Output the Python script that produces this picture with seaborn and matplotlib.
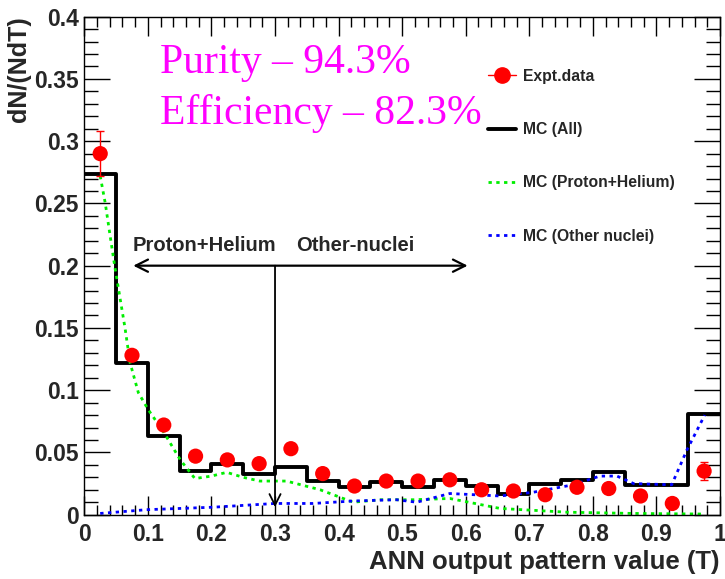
import numpy as np
import pandas as pd
import seaborn as sns
import matplotlib
matplotlib.use("Agg")
import matplotlib.pyplot as plt
from matplotlib.lines import Line2D
from matplotlib.ticker import MultipleLocator

# ---- data -------------------------------------------------------------
bin_edges = [0.00, 0.05, 0.10, 0.15, 0.20, 0.25, 0.30, 0.35, 0.40, 0.45, 0.50,
             0.55, 0.60, 0.65, 0.70, 0.75, 0.80, 0.85, 0.90, 0.95, 1.00]
bin_centers = [0.025, 0.075, 0.125, 0.175, 0.225, 0.275, 0.325, 0.375, 0.425, 0.475,
               0.525, 0.575, 0.625, 0.675, 0.725, 0.775, 0.825, 0.875, 0.925, 0.975]

expt_values = [0.290, 0.128, 0.072, 0.047, 0.044, 0.041, 0.053, 0.033, 0.023, 0.027,
               0.027, 0.028, 0.020, 0.019, 0.016, 0.022, 0.021, 0.015, 0.009, 0.035]
expt_errors = [0.018, 0.004, 0.003, 0.002, 0.002, 0.002, 0.002, 0.002, 0.002, 0.002,
               0.002, 0.002, 0.002, 0.002, 0.002, 0.002, 0.002, 0.002, 0.002, 0.007]

mc_all = [0.274, 0.122, 0.063, 0.035, 0.041, 0.033, 0.038, 0.027, 0.022, 0.026,
          0.022, 0.028, 0.023, 0.017, 0.025, 0.028, 0.034, 0.024, 0.024, 0.081]

ph_x = [0.025, 0.033, 0.040, 0.048, 0.064, 0.072, 0.085, 0.101, 0.124, 0.151, 0.174,
        0.200, 0.224, 0.250, 0.276, 0.318, 0.371, 0.423, 0.465, 0.518, 0.575, 0.654,
        0.759, 0.863, 0.976]
ph_y = [0.272, 0.250, 0.226, 0.199, 0.150, 0.122, 0.098, 0.084, 0.067, 0.044, 0.029,
        0.031, 0.034, 0.030, 0.027, 0.027, 0.020, 0.010, 0.012, 0.012, 0.013, 0.005,
        0.002, 0.001, 0.0005]

other_x = [0.025, 0.098, 0.203, 0.300, 0.360, 0.423, 0.491, 0.523, 0.575, 0.654,
           0.706, 0.769, 0.811, 0.838, 0.864, 0.924, 0.948, 0.976]
other_y = [0.001, 0.004, 0.006, 0.009, 0.009, 0.011, 0.012, 0.010, 0.017, 0.015,
           0.018, 0.024, 0.031, 0.031, 0.025, 0.024, 0.052, 0.080]

# ---- style ------------------------------------------------------------
sns.set_theme(style="ticks")
plt.rcParams["font.family"] = ["Liberation Sans", "DejaVu Sans"]
plt.rcParams["font.weight"] = "bold"

fig = plt.figure(figsize=(7.25, 5.79), dpi=100)
ax = fig.add_axes([0.1163, 0.1111, 0.8768, 0.8601])

# MC (All) histogram drawn as a step line
hist_df = pd.DataFrame({"T": bin_edges, "v": mc_all + [mc_all[-1]]})
sns.lineplot(data=hist_df, x="T", y="v", drawstyle="steps-post", color="black",
             linewidth=2.8, ax=ax, legend=False)

# MC components
sns.lineplot(x=ph_x, y=ph_y, color="#00ee00", linestyle=(0, (1.2, 1.6)),
             linewidth=2.0, ax=ax, legend=False, sort=False)
sns.lineplot(x=other_x, y=other_y, color="#0000ff", linestyle=(0, (1.2, 1.6)),
             linewidth=2.0, ax=ax, legend=False, sort=False)

# experimental data with error bars
ax.errorbar(bin_centers, expt_values, yerr=expt_errors, fmt="none", ecolor="red",
            elinewidth=1.0, capsize=3, capthick=1.0, zorder=4)
sns.scatterplot(x=bin_centers, y=expt_values, color="red", s=120, edgecolor="none",
                ax=ax, zorder=5, legend=False)

# axes, ticks
ax.set_xlim(0, 1)
ax.set_ylim(0, 0.4)
ax.xaxis.set_major_locator(MultipleLocator(0.1))
ax.xaxis.set_minor_locator(MultipleLocator(0.02))
ax.yaxis.set_major_locator(MultipleLocator(0.05))
ax.yaxis.set_minor_locator(MultipleLocator(0.01))
ax.set_xticks(np.round(np.arange(0, 1.01, 0.1), 2))
ax.set_xticklabels(["0", "0.1", "0.2", "0.3", "0.4", "0.5", "0.6", "0.7", "0.8", "0.9", "1"])
ax.set_yticks(np.round(np.arange(0, 0.401, 0.05), 2))
ax.set_yticklabels(["0", "0.05", "0.1", "0.15", "0.2", "0.25", "0.3", "0.35", "0.4"])
ax.tick_params(axis="both", which="both", direction="in", top=True, right=True,
               color="black", width=1.0, labelsize=16.5)
ax.tick_params(axis="x", which="major", length=14, pad=6)
ax.tick_params(axis="x", which="minor", length=7)
ax.tick_params(axis="y", which="major", length=19, pad=4)
ax.tick_params(axis="y", which="minor", length=10)
for lab in ax.get_xticklabels() + ax.get_yticklabels():
    lab.set_fontweight("bold")
for sp in ax.spines.values():
    sp.set_color("black")
    sp.set_linewidth(1.0)

ax.set_xlabel("ANN output pattern value (T)", fontsize=18.5, fontweight="bold",
              loc="right", labelpad=3)
ax.set_ylabel("dN/(NdT)", fontsize=18, fontweight="bold", loc="top", labelpad=2)

# purity / efficiency text
ax.text(0.119, 0.3548, "Purity \u2013 94.3%", fontsize=30, color="#ff00ff",
        family=["Liberation Serif", "DejaVu Serif"], fontweight="normal")
ax.text(0.119, 0.3137, "Efficiency \u2013 82.3%", fontsize=30, color="#ff00ff",
        family=["Liberation Serif", "DejaVu Serif"], fontweight="normal")

# classification boundary annotations
ax.annotate("", xy=(0.077, 0.2), xytext=(0.603, 0.2),
            arrowprops=dict(arrowstyle="<->", color="black", lw=1.6,
                            mutation_scale=22, shrinkA=0, shrinkB=0))
ax.annotate("", xy=(0.3, 0.006), xytext=(0.3, 0.2),
            arrowprops=dict(arrowstyle="->", color="black", lw=1.3,
                            mutation_scale=20, shrinkA=0, shrinkB=0))
ax.text(0.076, 0.212, "Proton+Helium", fontsize=14.5, fontweight="bold", ha="left")
ax.text(0.333, 0.212, "Other-nuclei", fontsize=14.5, fontweight="bold", ha="left")

# legend
handles = [
    Line2D([], [], color="red", marker="o", markersize=11, linewidth=1.0),
    Line2D([], [], color="black", linewidth=2.8),
    Line2D([], [], color="#00ee00", linewidth=2.0, linestyle=(0, (1.2, 1.6))),
    Line2D([], [], color="#0000ff", linewidth=2.0, linestyle=(0, (1.2, 1.6))),
]
labels = ["Expt.data", "MC (All)", "MC (Proton+Helium)", "MC (Other nuclei)"]
leg = fig.legend(handles, labels, loc="upper left", bbox_to_anchor=(0.654, 0.906),
                 frameon=False, labelspacing=2.45, handlelength=1.75,
                 handletextpad=0.45, prop={"weight": "bold", "size": 11.3})

fig.savefig("out.png", dpi=100)
